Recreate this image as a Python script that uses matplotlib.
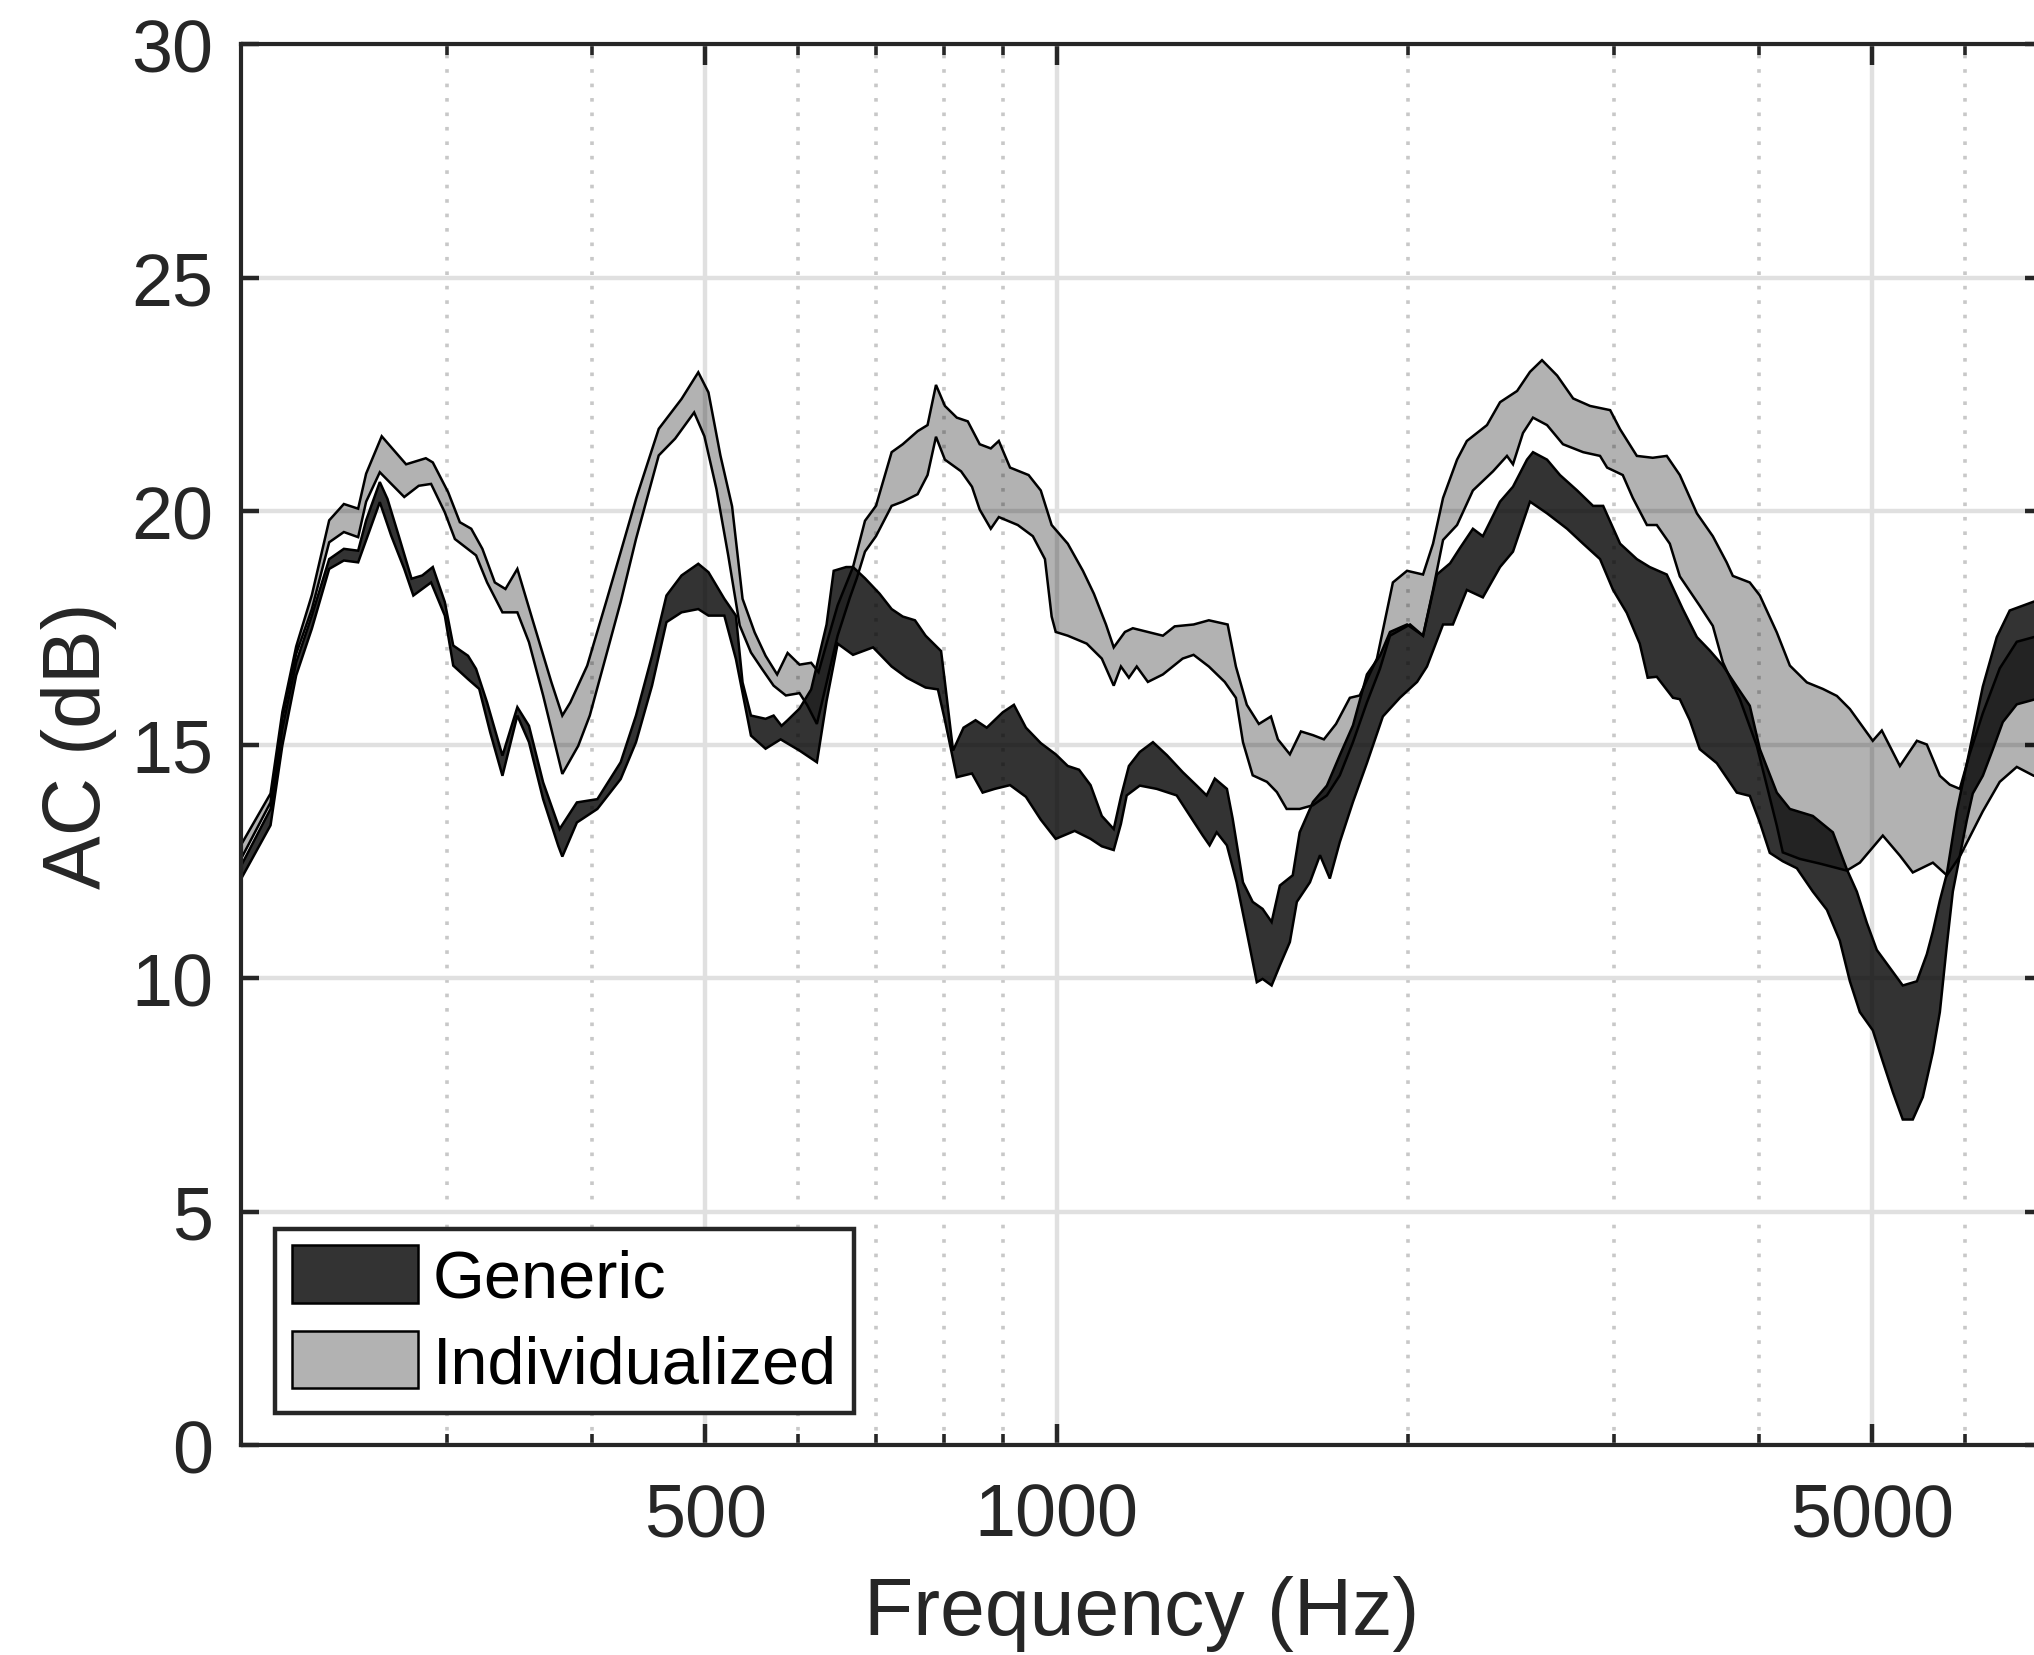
import numpy as np
import matplotlib
matplotlib.use("Agg")
import matplotlib.pyplot as plt
from matplotlib.ticker import NullFormatter

plt.rcParams['font.family'] = ['Liberation Sans', 'DejaVu Sans']

# Individualized band (upper / lower edge), dB
indiv_up_f = [200, 212, 217, 223, 230, 238, 245, 252, 256, 264,
              277, 288, 292, 301, 308, 315, 322, 330, 337, 345,
              356, 369, 377, 383, 396, 411, 423, 436, 456, 477,
              493, 503, 515, 527, 538, 551, 563, 576, 588, 602,
              616, 625, 635, 649, 669, 685, 700, 722, 738, 760,
              775, 788, 802, 821, 839, 859, 878, 892, 912, 946,
              969, 990, 1022, 1053, 1076, 1102, 1119, 1144, 1162, 1197,
              1233, 1262, 1310, 1350, 1401, 1424, 1455, 1490, 1526, 1547,
              1584, 1619, 1658, 1694, 1735, 1783, 1818, 1881, 1941, 1996,
              2060, 2101, 2143, 2203, 2246, 2337, 2398, 2480, 2544, 2605,
              2684, 2770, 2864, 2980, 3039, 3141, 3241, 3332, 3419, 3536,
              3649, 3750, 3796, 3925, 4004, 4140, 4248, 4393, 4534, 4661,
              4782, 5003, 5093, 5278, 5458, 5566, 5711, 5824, 5940, 6059,
              6216, 6427, 6647, 6874, 7000]
indiv_up = [12.85, 13.95, 15.7, 17.1, 18.2, 19.8, 20.15, 20.05, 20.8, 21.6,
            21.0, 21.13, 21.04, 20.4, 19.76, 19.62, 19.19, 18.47, 18.33, 18.76,
            17.62, 16.33, 15.62, 15.9, 16.69, 18.05, 19.12, 20.26, 21.76, 22.4,
            22.97, 22.54, 21.19, 20.1, 18.12, 17.4, 16.9, 16.5, 16.96, 16.71,
            16.75, 16.55, 17.16, 17.98, 18.8, 19.79, 20.11, 21.26, 21.43, 21.71,
            21.84, 22.7, 22.25, 22.0, 21.92, 21.43, 21.34, 21.5, 20.93, 20.77,
            20.44, 19.7, 19.3, 18.72, 18.23, 17.57, 17.08, 17.41, 17.49, 17.41,
            17.33, 17.53, 17.57, 17.66, 17.57, 16.67, 15.85, 15.44, 15.6, 15.11,
            14.79, 15.28, 15.2, 15.11, 15.44, 16.0, 16.05, 16.84, 18.47, 18.72,
            18.64, 19.3, 20.28, 21.1, 21.5, 21.84, 22.33, 22.57, 22.98, 23.23,
            22.9, 22.41, 22.25, 22.16, 21.75, 21.18, 21.14, 21.18, 20.77, 19.95,
            19.46, 18.9, 18.61, 18.47, 18.19, 17.4, 16.69, 16.33, 16.19, 16.04,
            15.76, 15.08, 15.3, 14.54, 15.08, 15.0, 14.33, 14.14, 14.05, 14.81,
            15.67, 16.63, 17.2, 17.3, 17.3]

indiv_lo_f = [200, 212, 217, 223, 230, 238, 245, 252, 256, 263,
              276, 284, 291, 299, 305, 318, 325, 335, 345, 353,
              363, 377, 389, 398, 411, 423, 436, 456, 471, 489,
              499, 511, 523, 535, 547, 559, 572, 586, 602, 611,
              623, 649, 665, 674, 685, 700, 722, 738, 760, 775,
              788, 802, 828, 846, 859, 878, 892, 926, 954, 977,
              990, 998, 1022, 1061, 1093, 1119, 1135, 1153, 1171, 1197,
              1233, 1282, 1310, 1350, 1393, 1424, 1444, 1472, 1514, 1544,
              1574, 1615, 1658, 1704, 1748, 1794, 1844, 1892, 1930, 2008,
              2060, 2101, 2143, 2203, 2273, 2365, 2431, 2460, 2509, 2559,
              2631, 2715, 2825, 2921, 2962, 3055, 3116, 3204, 3267, 3352,
              3419, 3556, 3649, 3722, 3849, 3980, 4059, 4140, 4189, 4333,
              4507, 4753, 4877, 5103, 5278, 5414, 5633, 5790, 5940, 6216,
              6427, 6647, 6874, 7000]
indiv_lo = [12.55, 13.76, 15.55, 16.94, 17.9, 19.33, 19.55, 19.44, 20.2, 20.83,
            20.3, 20.54, 20.58, 19.97, 19.4, 19.05, 18.47, 17.83, 17.83, 17.19,
            16.05, 14.37, 14.97, 15.62, 16.9, 18.05, 19.4, 21.19, 21.55, 22.11,
            21.6, 20.47, 19.05, 17.55, 16.97, 16.62, 16.26, 16.05, 16.1, 15.85,
            15.44, 17.33, 18.15, 18.56, 19.13, 19.46, 20.11, 20.2, 20.36, 20.77,
            21.59, 21.1, 20.85, 20.52, 20.03, 19.62, 19.87, 19.7, 19.46, 18.97,
            17.74, 17.41, 17.33, 17.16, 16.84, 16.26, 16.67, 16.43, 16.67, 16.34,
            16.5, 16.84, 16.92, 16.67, 16.34, 16.0, 15.05, 14.34, 14.2, 13.98,
            13.62, 13.62, 13.7, 13.91, 14.34, 15.05, 15.9, 16.62, 17.33, 17.57,
            17.33, 18.31, 19.38, 19.7, 20.44, 20.85, 21.18, 21.0, 21.67, 22.0,
            21.84, 21.43, 21.26, 21.18, 20.93, 20.77, 20.28, 19.7, 19.7, 19.3,
            18.6, 17.97, 17.54, 16.76, 15.97, 14.97, 14.12, 13.26, 12.69, 12.55,
            12.45, 12.3, 12.47, 13.05, 12.62, 12.26, 12.47, 12.2, 12.6, 13.57,
            14.2, 14.52, 14.33, 14.3]

# Generic band (upper / lower edge), dB
gen_up_f = [200, 212, 217, 223, 230, 238, 245, 252, 256, 263,
            267, 273, 280, 286, 292, 299, 304, 313, 318, 325,
            335, 345, 353, 363, 375, 388, 404, 423, 436, 450,
            463, 477, 493, 503, 519, 531, 538, 547, 563, 572,
            581, 588, 602, 616, 635, 644, 660, 669, 685, 705,
            722, 738, 756, 772, 796, 802, 815, 832, 852, 871,
            899, 919, 941, 969, 998, 1022, 1045, 1069, 1093, 1119,
            1135, 1153, 1178, 1209, 1243, 1282, 1318, 1344, 1366, 1399,
            1415, 1444, 1472, 1501, 1528, 1553, 1593, 1615, 1658, 1704,
            1748, 1794, 1844, 1892, 1930, 1996, 2060, 2117, 2173, 2216,
            2273, 2318, 2398, 2460, 2529, 2559, 2631, 2699, 2792, 2881,
            2939, 3039, 3141, 3222, 3332, 3439, 3536, 3628, 3722, 3826,
            3925, 4004, 4140, 4248, 4445, 4624, 4753, 4848, 4945, 5043,
            5174, 5308, 5458, 5566, 5633, 5711, 5790, 5905, 6059, 6216,
            6390, 6555, 6874, 7000]
gen_up = [12.4, 13.62, 15.33, 16.76, 17.76, 18.97, 19.19, 19.15, 19.8, 20.62,
          20.26, 19.47, 18.55, 18.62, 18.8, 18.05, 17.12, 16.9, 16.62, 15.9,
          14.76, 15.8, 15.4, 14.19, 13.19, 13.76, 13.83, 14.62, 15.62, 16.9,
          18.19, 18.62, 18.87, 18.69, 18.12, 17.76, 16.33, 15.62, 15.55, 15.62,
          15.4, 15.52, 15.77, 16.18, 17.57, 18.72, 18.8, 18.8, 18.56, 18.23,
          17.9, 17.74, 17.66, 17.33, 17.0, 16.34, 14.87, 15.36, 15.52, 15.36,
          15.69, 15.85, 15.36, 15.03, 14.79, 14.54, 14.46, 14.13, 13.47, 13.19,
          13.88, 14.54, 14.84, 15.05, 14.77, 14.41, 14.12, 13.91, 14.27, 14.05,
          13.41, 12.05, 11.63, 11.48, 11.2, 11.98, 12.2, 13.12, 13.77, 14.12,
          14.77, 15.41, 16.5, 16.9, 17.41, 17.57, 17.33, 18.64, 18.88, 19.21,
          19.62, 19.46, 20.2, 20.52, 21.1, 21.26, 21.1, 20.77, 20.44, 20.11,
          20.11, 19.3, 18.97, 18.8, 18.64, 17.9, 17.3, 17.01, 16.69, 16.24,
          15.83, 14.9, 13.97, 13.62, 13.47, 13.12, 12.33, 11.85, 11.18, 10.6,
          10.22, 9.84, 9.93, 10.51, 11.0, 11.66, 12.23, 13.57, 14.9, 16.24,
          17.3, 17.87, 18.06, 18.1]

gen_lo_f = [200, 212, 217, 223, 230, 238, 245, 252, 263, 269,
            276, 281, 291, 299, 304, 313, 320, 327, 335, 345,
            353, 363, 374, 377, 388, 404, 423, 436, 450, 463,
            477, 493, 503, 519, 531, 547, 563, 580, 602, 623,
            635, 649, 669, 696, 722, 744, 772, 791, 802, 821,
            846, 864, 885, 912, 941, 969, 998, 1036, 1069, 1093,
            1119, 1135, 1148, 1178, 1218, 1267, 1300, 1334, 1352, 1371,
            1399, 1426, 1455, 1484, 1501, 1528, 1553, 1584, 1606, 1648,
            1681, 1714, 1748, 1794, 1844, 1903, 1968, 2036, 2076, 2143,
            2185, 2246, 2318, 2398, 2460, 2544, 2631, 2737, 2825, 2921,
            2997, 3079, 3159, 3209, 3267, 3373, 3419, 3487, 3556, 3678,
            3826, 3925, 4004, 4083, 4189, 4307, 4445, 4570, 4688, 4782,
            4877, 5003, 5103, 5206, 5308, 5414, 5522, 5633, 5711, 5790,
            5859, 5940, 6023, 6094, 6216, 6341, 6466, 6647, 6874, 7000]
gen_lo = [12.12, 13.27, 14.98, 16.48, 17.48, 18.76, 18.94, 18.9, 20.19, 19.47,
          18.76, 18.19, 18.47, 17.76, 16.69, 16.4, 16.19, 15.26, 14.33, 15.62,
          15.05, 13.83, 12.83, 12.6, 13.33, 13.62, 14.26, 15.05, 16.26, 17.62,
          17.83, 17.9, 17.76, 17.76, 16.83, 15.19, 14.91, 15.11, 14.87, 14.62,
          15.93, 17.16, 16.92, 17.08, 16.67, 16.43, 16.22, 16.18, 15.52, 14.3,
          14.38, 13.97, 14.05, 14.13, 13.88, 13.39, 12.98, 13.15, 12.98, 12.82,
          12.74, 13.3, 13.91, 14.12, 14.05, 13.91, 13.48, 13.05, 12.84, 13.12,
          12.84, 12.05, 10.98, 9.91, 9.98, 9.84, 10.27, 10.77, 11.63, 12.05,
          12.63, 12.13, 12.91, 13.77, 14.6, 15.6, 16.0, 16.34, 16.67, 17.57,
          17.57, 18.31, 18.15, 18.8, 19.13, 20.2, 19.95, 19.62, 19.3, 18.97,
          18.31, 17.82, 17.16, 16.43, 16.45, 16.0, 15.97, 15.52, 14.9, 14.6,
          13.97, 13.9, 13.33, 12.68, 12.5, 12.35, 11.85, 11.46, 10.8, 9.93,
          9.27, 8.88, 8.21, 7.55, 6.97, 6.97, 7.45, 8.41, 9.27, 10.7,
          11.85, 12.61, 13.38, 13.95, 14.33, 14.9, 15.48, 15.86, 15.96, 16.0]

xmajor = [500, 1000, 5000]
xminor = [300, 400, 600, 700, 800, 900, 2000, 3000, 4000, 6000]
yticks = [0, 5, 10, 15, 20, 25, 30]

dark = '#262626'
fig = plt.figure(figsize=(10.17, 8.28), dpi=200)
ax = fig.add_axes([0.11849, 0.12681, 0.88594, 0.84601])

ax.fill(np.r_[gen_up_f, gen_lo_f[::-1]], np.r_[gen_up, gen_lo[::-1]],
        facecolor=(0, 0, 0, 0.8), edgecolor='k', lw=0.9, label='Generic')
ax.fill(np.r_[indiv_up_f, indiv_lo_f[::-1]], np.r_[indiv_up, indiv_lo[::-1]],
        facecolor=(0, 0, 0, 0.3), edgecolor='k', lw=0.9, label='Individualized')

ax.set_xscale('log')
ax.set_xlim(200, 7000)
ax.set_ylim(0, 30)
ax.set_xticks(xmajor)
ax.set_xticklabels([str(v) for v in xmajor])
ax.set_xticks(xminor, minor=True)
ax.xaxis.set_minor_formatter(NullFormatter())
ax.set_yticks(yticks)

ax.set_axisbelow(True)
ax.grid(True, which='major', color='#e0e0e0', lw=1.6)
ax.xaxis.grid(True, which='minor', color='#c8c8c8', lw=1.3, ls=(0, (1, 3)))

ax.tick_params(which='both', direction='in', top=True, right=True,
               color=dark, labelcolor=dark, labelsize=26.5)
ax.tick_params(axis='x', which='major', length=7.5, width=1.6, pad=13)
ax.tick_params(axis='y', which='major', length=6.5, width=1.6, pad=10)
ax.tick_params(which='minor', length=4, width=1.3)
for s in ax.spines.values():
    s.set_color(dark)
    s.set_linewidth(1.5)

ax.set_xlabel('Frequency (Hz)', fontsize=29, color=dark, labelpad=9)
ax.set_ylabel('AC (dB)', fontsize=29, color=dark, labelpad=5)

leg = ax.legend(loc='lower left', bbox_to_anchor=(0.0189, 0.0228), borderaxespad=0,
                fontsize=24, fancybox=False, framealpha=1, edgecolor=dark,
                handlelength=1.9, handleheight=0.94, handletextpad=0.22,
                borderpad=0.25, labelspacing=0.3)
leg.get_frame().set_linewidth(1.6)

plt.savefig('out.png', dpi=200)
